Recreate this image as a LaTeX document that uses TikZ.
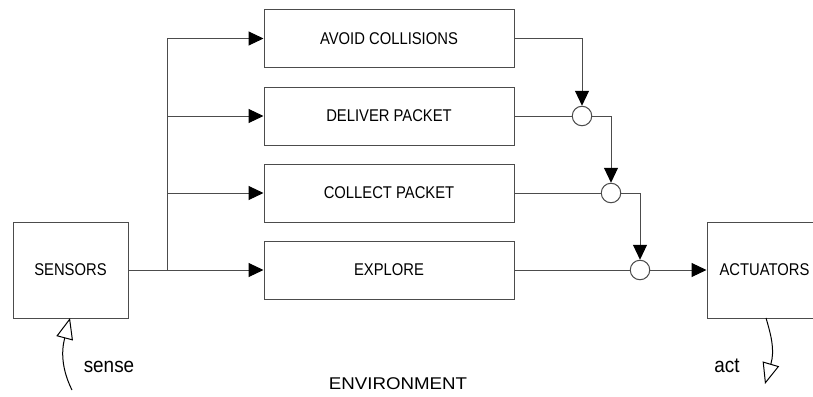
\documentclass[tikz,border=0pt]{standalone}
\usepackage{fontspec}
\usepackage{graphicx}
\setmainfont{Liberation Sans}
\usetikzlibrary{arrows.meta}
\tikzset{
  ln/.style={draw=black!70, line width=1pt},
  box/.style={ln, rectangle, fill=white, inner sep=0pt},
  bhv/.style={box, minimum width=250pt, minimum height=58pt},
  endbox/.style={box, minimum width=115pt, minimum height=96pt},
  junc/.style={ln, circle, fill=white, minimum size=19.5pt, inner sep=0pt},
  arr/.style={ln, -{Triangle[length=15pt, width=14pt, color=black, fill=black]}},
  openarr/.style={draw=black, line width=1pt, -{Triangle[open, length=21pt, width=17pt, fill=white]}},
  lbl/.style={font=\fontsize{17}{20}\selectfont},
  biglbl/.style={font=\fontsize{21}{24}\selectfont}
}
\newcommand{\sq}[2][0.87]{\scalebox{#1}[1]{#2}}
\begin{document}
\begin{tikzpicture}[x=1pt, y=-1pt]
\useasboundingbox (0,0) rectangle (813,396);
\clip (0,0) rectangle (813,396);
\node[endbox, lbl] (sensors) at (70.5,270) {\sq{SENSORS}};
\node[endbox, lbl] (act) at (764.5,270) {\sq{ACTUATORS}};
\node[bhv, lbl] (avoid) at (389,38.5) {\sq{AVOID COLLISIONS}};
\node[bhv, lbl] (deliver) at (389,116) {\sq{DELIVER PACKET}};
\node[bhv, lbl] (collect) at (389,193) {\sq{COLLECT PACKET}};
\node[bhv, lbl] (explore) at (389,270) {\sq{EXPLORE}};
\node[junc] (c1) at (582,116) {};
\node[junc] (c2) at (611,193) {};
\node[junc] (c3) at (640,270) {};
\coordinate (j) at (167,270);
\coordinate (jt) at (167,38.5);
\draw[ln] (jt) -- (j);
\draw[arr] (sensors.east) -- (explore.west);
\draw[arr] (jt) -- (avoid.west);
\draw[arr] (j |- deliver.west) -- (deliver.west);
\draw[arr] (j |- collect.west) -- (collect.west);
\draw[arr] (avoid.east) -| (c1.north);
\draw[ln] (deliver.east) -- (c1.west);
\draw[arr] (c1.east) -| (c2.north);
\draw[ln] (collect.east) -- (c2.west);
\draw[arr] (c2.east) -| (c3.north);
\draw[ln] (explore.east) -- (c3.west);
\draw[arr] (c3.east) -- (act.west);
\coordinate (sensesrc) at (72,390);
\coordinate (sensetip) at (70,318);
\coordinate (actsrc) at (766,318);
\coordinate (actdst) at (765,384);
\draw[openarr] (sensesrc) .. controls (62,370) and (61,352) .. (sensetip);
\draw[openarr] (actsrc) .. controls (771,335) and (775,350) .. (actdst);
\node[biglbl] (sense) at (109,367) {\sq[0.9]{sense}};
\node[biglbl] (actlbl) at (727,366) {\sq[0.9]{act}};
\node[font=\fontsize{17}{20}\selectfont] (env) at (398,384) {\scalebox{1.1}[1]{ENVIRONMENT}};
\end{tikzpicture}
\end{document}
